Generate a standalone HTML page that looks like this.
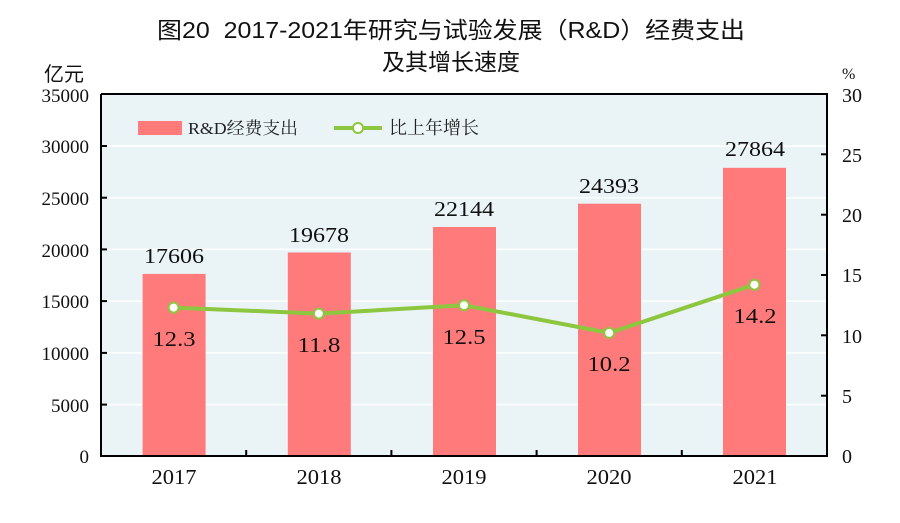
<!DOCTYPE html>
<html><head><meta charset="utf-8"><style>
body{margin:0;background:#fff;width:900px;height:518px;overflow:hidden}
svg text{font-family:"Liberation Serif","Noto Serif CJK SC",serif}
</style></head><body>
<svg width="900" height="518" viewBox="0 0 900 518" xmlns="http://www.w3.org/2000/svg">
<text x="157" y="38" font-size="23" textLength="588" lengthAdjust="spacingAndGlyphs" fill="#111" style="font-family:'Liberation Sans','Noto Sans CJK SC',sans-serif" xml:space="preserve">图20  2017-2021年研究与试验发展（R&amp;D）经费支出</text>
<text x="451" y="70" font-size="23" text-anchor="middle" fill="#111" style="font-family:'Liberation Sans','Noto Sans CJK SC',sans-serif">及其增长速度</text>
<rect x="101" y="94" width="726" height="362" fill="#eaf4f7"/>
<g stroke="#fff" stroke-width="1.5">
<line x1="101" x2="827" y1="146" y2="146"/><line x1="101" x2="827" y1="197.7" y2="197.7"/>
<line x1="101" x2="827" y1="249.4" y2="249.4"/><line x1="101" x2="827" y1="301.1" y2="301.1"/>
<line x1="101" x2="827" y1="352.9" y2="352.9"/><line x1="101" x2="827" y1="404.6" y2="404.6"/>
</g>
<g fill="#ff7b7b">
<rect x="142.6" y="273.9" width="63" height="182.1"/>
<rect x="287.8" y="252.5" width="63" height="203.5"/>
<rect x="433" y="227" width="63" height="229"/>
<rect x="578" y="203.7" width="63" height="252.3"/>
<rect x="723" y="167.8" width="63" height="288.2"/>
</g>
<g fill="none" stroke="#000" stroke-width="2">
<path d="M101 94V456H827V94H101"/>
</g>
<g stroke="#000" stroke-width="2">
<line x1="101" x2="107" y1="146" y2="146"/><line x1="101" x2="107" y1="197.7" y2="197.7"/><line x1="101" x2="107" y1="249.4" y2="249.4"/><line x1="101" x2="107" y1="301.1" y2="301.1"/><line x1="101" x2="107" y1="352.9" y2="352.9"/><line x1="101" x2="107" y1="404.6" y2="404.6"/>
<line x1="821" x2="827" y1="154.3" y2="154.3"/><line x1="821" x2="827" y1="214.7" y2="214.7"/><line x1="821" x2="827" y1="275" y2="275"/><line x1="821" x2="827" y1="335.3" y2="335.3"/><line x1="821" x2="827" y1="395.7" y2="395.7"/>
<line x1="246.2" x2="246.2" y1="450" y2="456"/><line x1="391.4" x2="391.4" y1="450" y2="456"/><line x1="536.6" x2="536.6" y1="450" y2="456"/><line x1="681.8" x2="681.8" y1="450" y2="456"/>
</g>
<polyline points="173.6,307.6 318.8,313.6 464,305.2 609.2,332.9 754.4,284.7" fill="none" stroke="#8dc63f" stroke-width="4"/>
<g fill="#fff" stroke="#8dc63f" stroke-width="2">
<circle cx="173.6" cy="307.6" r="5"/><circle cx="318.8" cy="313.6" r="5"/><circle cx="464" cy="305.2" r="5"/><circle cx="609.2" cy="332.9" r="5"/><circle cx="754.4" cy="284.7" r="5"/>
</g>
<g font-size="21" fill="#111" text-anchor="middle">
<text x="174" y="263" textLength="60" lengthAdjust="spacingAndGlyphs">17606</text><text x="319" y="242" textLength="60" lengthAdjust="spacingAndGlyphs">19678</text><text x="464" y="216" textLength="60" lengthAdjust="spacingAndGlyphs">22144</text><text x="609" y="193" textLength="60" lengthAdjust="spacingAndGlyphs">24393</text><text x="755" y="156" textLength="60" lengthAdjust="spacingAndGlyphs">27864</text>
<text x="174" y="346" textLength="43" lengthAdjust="spacingAndGlyphs">12.3</text><text x="319" y="352" textLength="43" lengthAdjust="spacingAndGlyphs">11.8</text><text x="464" y="344" textLength="43" lengthAdjust="spacingAndGlyphs">12.5</text><text x="609" y="371" textLength="43" lengthAdjust="spacingAndGlyphs">10.2</text><text x="755" y="323" textLength="43" lengthAdjust="spacingAndGlyphs">14.2</text>
<text x="174" y="484" textLength="45" lengthAdjust="spacingAndGlyphs">2017</text><text x="319" y="484" textLength="45" lengthAdjust="spacingAndGlyphs">2018</text><text x="464" y="484" textLength="45" lengthAdjust="spacingAndGlyphs">2019</text><text x="609" y="484" textLength="45" lengthAdjust="spacingAndGlyphs">2020</text><text x="755" y="484" textLength="45" lengthAdjust="spacingAndGlyphs">2021</text>
</g>
<g font-size="19" fill="#111" text-anchor="end">
<text x="89" y="102">35000</text><text x="89" y="153">30000</text><text x="89" y="205">25000</text><text x="89" y="257">20000</text><text x="89" y="308">15000</text><text x="89" y="360">10000</text><text x="89" y="412">5000</text><text x="89" y="463">0</text>
</g>
<g font-size="20" fill="#111">
<text x="842" y="102">30</text><text x="842" y="162">25</text><text x="842" y="222">20</text><text x="842" y="282">15</text><text x="842" y="343">10</text><text x="842" y="403">5</text><text x="842" y="463">0</text>
<text x="842" y="79" font-size="16">%</text>
<text x="44" y="81" style="font-family:'Liberation Sans','Noto Sans CJK SC',sans-serif">亿元</text>
</g>
<rect x="138" y="121" width="44" height="14" fill="#ff7b7b"/>
<text x="188" y="134" font-size="17" textLength="110" lengthAdjust="spacingAndGlyphs" fill="#222">R&amp;D经费支出</text>
<line x1="334" x2="382" y1="128" y2="128" stroke="#8dc63f" stroke-width="4"/>
<circle cx="358" cy="128" r="5" fill="#fff" stroke="#8dc63f" stroke-width="2"/>
<text x="389" y="134" font-size="18" fill="#222">比上年增长</text>
</svg>
</body></html>
